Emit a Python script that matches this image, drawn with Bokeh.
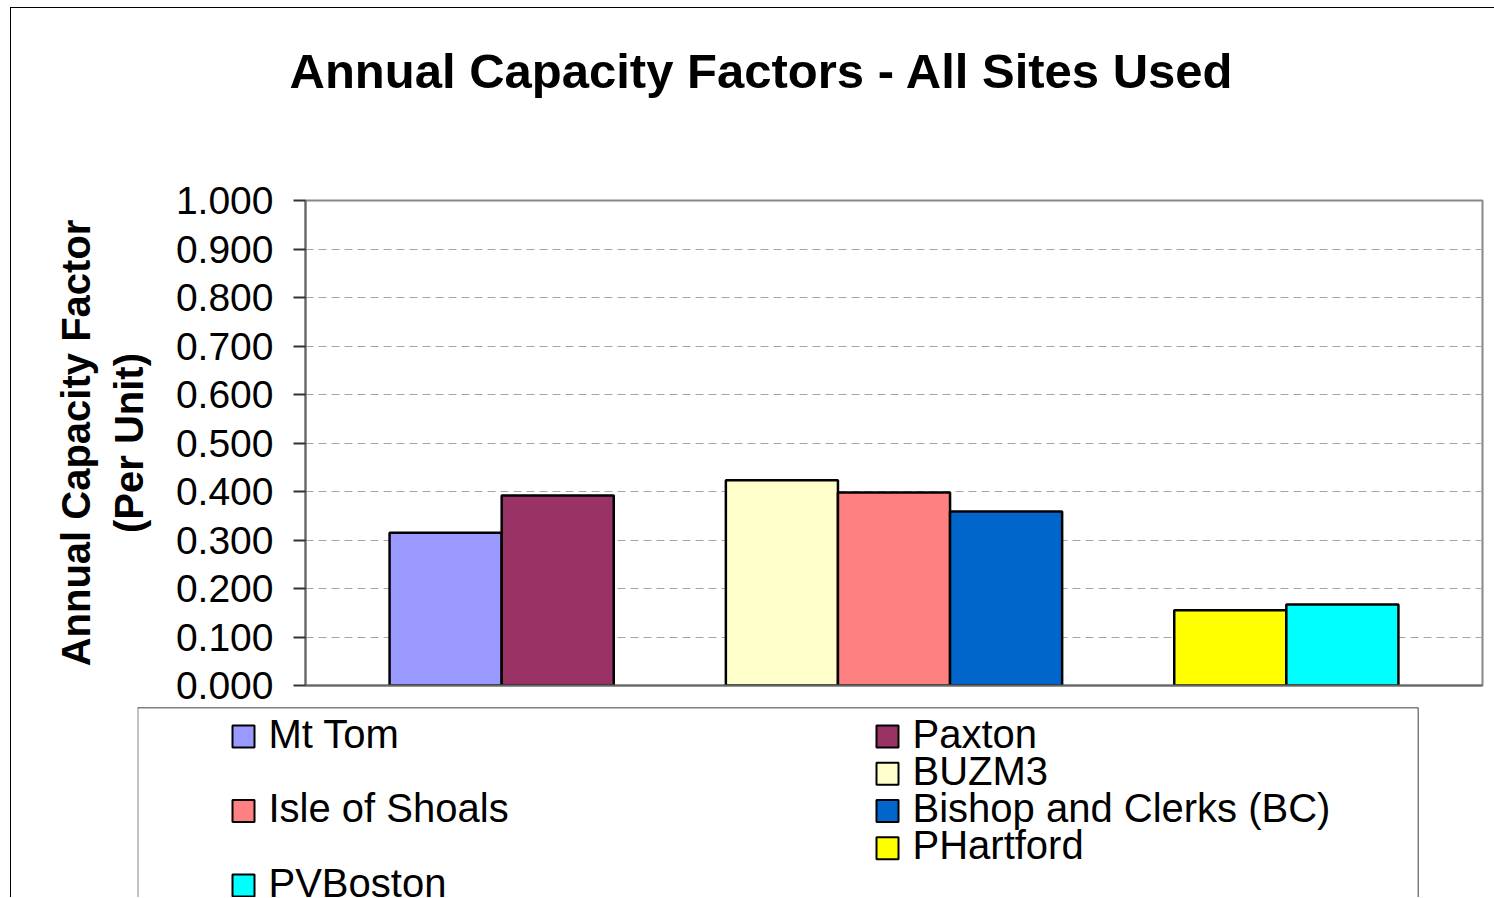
from bokeh.plotting import figure
from bokeh.models import (Range1d, FixedTicker, NumeralTickFormatter, Span,
                          ColumnDataSource)
from bokeh.layouts import column
from bokeh.embed import file_html
from bokeh.resources import INLINE
from bokeh.core.properties import value

# ---------------- data ----------------
series = ["Mt Tom", "Paxton", "BUZM3", "Isle of Shoals",
          "Bishop and Clerks (BC)", "PHartford", "PVBoston"]
groups = [0, 0, 1, 1, 1, 2, 2]
values = [0.315, 0.392, 0.423, 0.398, 0.359, 0.155, 0.167]
colors = ["#9999FF", "#993366", "#FFFFCC", "#FF8080",
          "#0066CC", "#FFFF00", "#00FFFF"]
y_ticks = [0.0, 0.1, 0.2, 0.3, 0.4, 0.5, 0.6, 0.7, 0.8, 0.9, 1.0]
n_groups = 3
legend_col = [0, 1, 1, 0, 1, 1, 0]
legend_row = [0, 0, 1, 2, 2, 3, 4]
title_text = "Annual Capacity Factors - All Sites Used"
y_label = "Annual Capacity Factor\n(Per Unit)"

FONT = "Liberation Sans"
W = 1483


def bare(fig):
    if "frame_align" in fig.properties():
        fig.frame_align = False
    fig.xaxis.visible = False
    fig.yaxis.visible = False
    fig.grid.visible = False
    fig.outline_line_color = None


# ---------------- title strip ----------------
HT = 162
tp = figure(width=W, height=HT, output_backend="svg", toolbar_location=None,
            x_range=Range1d(0, W), y_range=Range1d(HT, 0),
            min_border_left=0, min_border_right=0,
            min_border_top=0, min_border_bottom=0,
            border_fill_color="white")
bare(tp)
tp.text(x=[278], y=[62], text=[title_text], text_font=value(FONT),
        text_font_size="49px", text_font_style="bold", text_color="black",
        text_align="left", text_baseline="alphabetic")

# ---------------- bar chart ----------------
bar_w = 2.0 / 7.0
xs = []
for i, g in enumerate(groups):
    members = [j for j, gg in enumerate(groups) if gg == g]
    k = members.index(i)
    n = len(members)
    xs.append(g + 0.5 + (k - (n - 1) / 2.0) * bar_w)

src = ColumnDataSource(dict(x=xs, top=values, color=colors, name=series))

HA = 536
p = figure(width=W, height=HA, output_backend="svg", toolbar_location=None,
           x_range=Range1d(0, n_groups), y_range=Range1d(0, 1),
           min_border_left=294, min_border_right=12,
           min_border_top=30, min_border_bottom=21,
           background_fill_color="white", border_fill_color="white")
if "frame_align" in p.properties():
    p.frame_align = False

p.vbar(x="x", top="top", bottom=0, width=bar_w, source=src,
       fill_color="color", line_color="black", line_width=2.5)

p.outline_line_color = "#888888"
p.outline_line_width = 2

# y axis
p.yaxis.ticker = FixedTicker(ticks=y_ticks)
p.yaxis.formatter = NumeralTickFormatter(format="0.000")
p.yaxis.major_label_text_font = FONT
p.yaxis.major_label_text_font_size = "39px"
p.yaxis.major_label_text_color = "black"
p.yaxis.major_label_standoff = 20
p.yaxis.major_tick_out = 12
p.yaxis.major_tick_in = 0
p.yaxis.minor_tick_out = 0
p.yaxis.minor_tick_in = 0
p.yaxis.major_tick_line_color = "#333333"
p.yaxis.major_tick_line_width = 2
p.yaxis.axis_line_color = "#666666"
p.yaxis.axis_line_width = 2
p.yaxis.axis_label = y_label
p.yaxis.axis_label_text_font = FONT
p.yaxis.axis_label_text_font_size = "40px"
p.yaxis.axis_label_text_font_style = "bold"
p.yaxis.axis_label_text_color = "black"
p.yaxis.axis_label_standoff = 22

# x axis (category axis without labels)
p.xaxis.ticker = FixedTicker(ticks=[])
p.xaxis.major_tick_out = 0
p.xaxis.major_tick_in = 0
p.xaxis.minor_tick_out = 0
p.xaxis.minor_tick_in = 0
p.xaxis.axis_line_color = "#666666"
p.xaxis.axis_line_width = 2

# grid
p.xgrid.grid_line_color = None
p.ygrid.ticker = FixedTicker(ticks=y_ticks)
p.ygrid.grid_line_color = "#A6A6A6"
p.ygrid.grid_line_dash = "8 5"
p.ygrid.grid_line_width = 1.2

# ---------------- legend figure ----------------
HB = 191
box_w = 1281
box_h = HB - 1
lg = figure(width=W, height=HB, output_backend="svg", toolbar_location=None,
            x_range=Range1d(0, box_w), y_range=Range1d(box_h, 0),
            min_border_left=126, min_border_right=W - 126 - box_w,
            min_border_top=1, min_border_bottom=0,
            border_fill_color="white")
bare(lg)

col_left = [95, 739]
row_top = 29
row_step = 37.25
sq = 22
sq_x = [col_left[c] + sq / 2.0 for c in legend_col]
sq_y = [row_top + row_step * r for r in legend_row]
tx = [col_left[c] + 36 for c in legend_col]
ty = [y - 3 for y in sq_y]
lsrc = ColumnDataSource(dict(x=sq_x, y=sq_y, tx=tx, ty=ty, color=colors, name=series))
lg.rect(x="x", y="y", width=sq, height=sq, source=lsrc,
        fill_color="color", line_color="black", line_width=2)
lg.text(x="tx", y="ty", text="name", source=lsrc, text_font=value(FONT),
        text_font_size="40px", text_baseline="middle", text_align="left",
        text_color="black")

lg.add_layout(Span(location=0, dimension="height", line_color="#888888", line_width=2))
lg.add_layout(Span(location=0, dimension="width", line_color="black", line_width=1.5))
lg.add_layout(Span(location=box_w, dimension="height", line_color="black", line_width=1.5))

layout = column(tp, p, lg, spacing=0,
                styles={"border-left": "1.5px solid black",
                        "border-top": "1.5px solid black",
                        "margin-left": "10px",
                        "margin-top": "7px"})

open("out.html", "w").write(file_html(layout, INLINE))
